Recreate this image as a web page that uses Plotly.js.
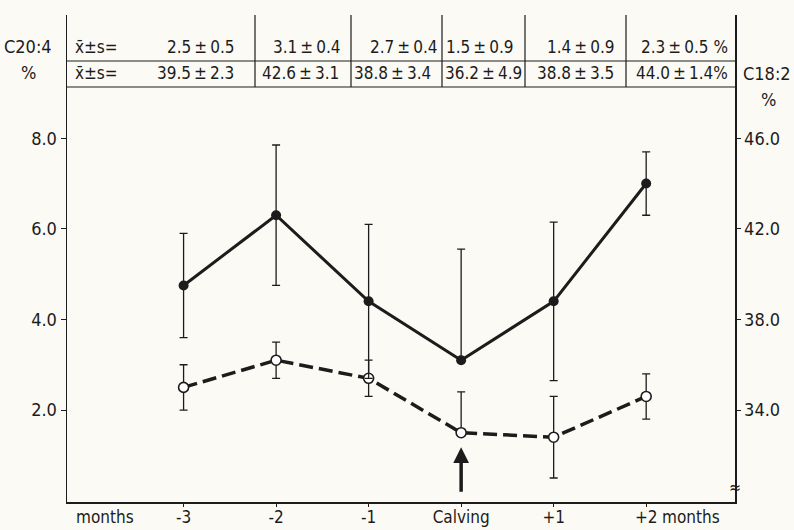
<!DOCTYPE html>
<html>
<head>
<meta charset="utf-8">
<script src="https://cdn.plot.ly/plotly-3.0.1.min.js"></script>
<style>
  html, body { margin: 0; padding: 0; background: #fbfaf5; }
  #chart { width: 794px; height: 530px; }
</style>
</head>
<body>
<div id="chart"></div>
<script>
// Sampling months around calving
const months = ["-3", "-2", "-1", "Calving", "+1", "+2"];

// C20:4 (% of fatty acids), mean and SD
const c204Mean = [2.5, 3.1, 2.7, 1.5, 1.4, 2.3];
const c204Sd   = [0.5, 0.4, 0.4, 0.9, 0.9, 0.5];

// C18:2 (% of fatty acids), mean and SD
const c182Mean = [39.5, 42.6, 38.8, 36.2, 38.8, 44.0];
const c182Sd   = [2.3, 3.1, 3.4, 4.9, 3.5, 1.4];

// lower whiskers are left out at calving, where the arrow sits
const lowerWhisker = [1, 1, 1, 0, 1, 1];

// axis ticks
const leftTicks  = [2, 4, 6, 8];
const rightTicks = [34, 38, 42, 46];

const FONT = '"DejaVu Sans Condensed", "DejaVu Sans", sans-serif';
const INK = '#1c1c1c';
const PAPER = '#fbfaf5';
const TICK_SIZE = 18;
const XTICK_SIZE = 17;
const TABLE_SIZE = 17;

// plot area in pixels
const W = 794, H = 530;
const M = { l: 67, r: W - 735, t: 15, b: H - 502 };
const plotW = W - M.l - M.r, plotH = H - M.t - M.b;
const px = x => (x - M.l) / plotW;          // pixel x -> paper x
const py = y => (H - M.b - y) / plotH;      // pixel y -> paper y

const c204 = {
  x: months, y: c204Mean, yaxis: 'y', type: 'scatter', mode: 'lines+markers',
  line: { color: INK, width: 3.5, dash: '14px,6px' },
  marker: { symbol: 'circle', size: 10, color: '#ffffff', line: { color: INK, width: 1.6 } },
  error_y: {
    type: 'data', symmetric: false, array: c204Sd,
    arrayminus: c204Sd.map((s, i) => s * lowerWhisker[i]),
    color: INK, thickness: 1.3, width: 4
  },
  hoverinfo: 'x+y'
};

const c182 = {
  x: months, y: c182Mean, yaxis: 'y2', type: 'scatter', mode: 'lines+markers',
  line: { color: INK, width: 3 },
  marker: { symbol: 'circle', size: 10, color: INK },
  error_y: {
    type: 'data', symmetric: false, array: c182Sd,
    arrayminus: c182Sd.map((s, i) => s * lowerWhisker[i]),
    color: INK, thickness: 1.3, width: 4
  },
  hoverinfo: 'x+y'
};

// summary table above the curves
const TS = '\u2009';  // thin space around the ± sign
const fmt = (m, s) => m.toFixed(1) + TS + '±' + TS + s.toFixed(1);
const last = months.length - 1;
const row1Text = c204Mean.map((m, i) => fmt(m, c204Sd[i]) + (i === last ? ' %' : ''));
const row2Text = c182Mean.map((m, i) => fmt(m, c182Sd[i]) + (i === last ? '%' : ''));
const row1Centers = [201, 307, 404, 480, 581, 684];
const row2Centers = [195, 300, 392, 483, 575, 682];
const colSeparators = [255, 351, 442, 525, 626];

const txt = (text, x, y, size, extra) => Object.assign({
  text: text, xref: 'paper', yref: 'paper', x: px(x), y: py(y),
  xanchor: 'center', yanchor: 'middle', showarrow: false,
  font: { family: FONT, size: size || TICK_SIZE, color: INK }
}, extra || {});

const annotations = [];
row1Text.forEach((t, i) => annotations.push(txt(t, row1Centers[i], 47, TABLE_SIZE)));
row2Text.forEach((t, i) => annotations.push(txt(t, row2Centers[i], 73, TABLE_SIZE)));
annotations.push(txt('x\u0304±s=', 96, 47, TABLE_SIZE));
annotations.push(txt('x\u0304±s=', 96, 73, TABLE_SIZE));
annotations.push(txt('C20:4', 28, 47));
annotations.push(txt('%', 28, 72));
annotations.push(txt('C18:2', 767, 73));
annotations.push(txt('%', 768, 100));
annotations.push(txt('months', 105, 517, XTICK_SIZE));
annotations.push(txt('months', 691, 517, XTICK_SIZE));
annotations.push(txt('≈', 735, 487, 16));
// calving arrow
annotations.push({
  x: 'Calving', xref: 'x', y: 1.18, yref: 'y', text: '',
  showarrow: true, ax: 0, ay: 46, axref: 'pixel', ayref: 'pixel',
  arrowhead: 2, arrowsize: 0.9, arrowwidth: 3.5, arrowcolor: INK
});

const shapes = [];
[61, 87].forEach(y => shapes.push({
  type: 'line', xref: 'paper', yref: 'paper', x0: 0, x1: 1, y0: py(y), y1: py(y),
  line: { color: INK, width: 1.2 }
}));
colSeparators.forEach(x => shapes.push({
  type: 'line', xref: 'paper', yref: 'paper', x0: px(x), x1: px(x), y0: py(87), y1: 1,
  line: { color: INK, width: 1.2 }
}));

const axisStyle = {
  showgrid: false, zeroline: false,
  showline: true, linecolor: INK, linewidth: 1.5,
  ticks: 'outside', tickcolor: INK,
  tickfont: { family: FONT, size: TICK_SIZE, color: INK }
};

const layout = {
  width: W, height: H,
  margin: M,
  paper_bgcolor: PAPER, plot_bgcolor: PAPER,
  showlegend: false,
  font: { family: FONT, size: TICK_SIZE, color: INK },
  xaxis: Object.assign({}, axisStyle, {
    type: 'category', range: [-1.26, 5.96], ticklen: 3,
    ticklabelstandoff: -4,
    tickfont: { family: FONT, size: XTICK_SIZE, color: INK }
  }),
  yaxis: Object.assign({}, axisStyle, {
    range: [-0.03, 10.72], ticklen: 5,
    tickvals: leftTicks, ticktext: leftTicks.map(v => v.toFixed(1))
  }),
  yaxis2: Object.assign({}, axisStyle, {
    overlaying: 'y', side: 'right', range: [29.94, 51.44], ticklen: 4,
    tickvals: rightTicks, ticktext: rightTicks.map(v => v.toFixed(1))
  }),
  shapes: shapes,
  annotations: annotations
};

Plotly.newPlot('chart', [c204, c182], layout, { displayModeBar: false, staticPlot: true });
</script>
</body>
</html>
